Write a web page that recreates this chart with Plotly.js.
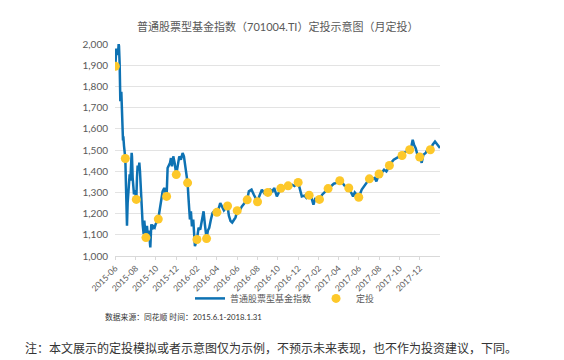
<!DOCTYPE html>
<html>
<head>
<meta charset="utf-8">
<script src="https://cdn.plot.ly/plotly-3.0.1.min.js"></script>
<style>
  html, body { margin: 0; padding: 0; background: #ffffff; }
  #chart { width: 564px; height: 360px; }
</style>
</head>
<body>
<div id="chart"></div>
<script>
// Index line (普通股票型基金指数)
const lineDates = [
  '2015-06-01','2015-06-02','2015-06-03','2015-06-04','2015-06-05','2015-06-08','2015-06-09','2015-06-10','2015-06-11','2015-06-12',
  '2015-06-14','2015-06-16','2015-06-17','2015-06-19','2015-06-20','2015-06-24','2015-06-25','2015-06-27','2015-06-29','2015-07-01',
  '2015-07-03','2015-07-04','2015-07-06','2015-07-08','2015-07-10','2015-07-11','2015-07-14','2015-07-16','2015-07-18','2015-07-20',
  '2015-07-21','2015-07-23','2015-07-25','2015-07-27','2015-07-30','2015-08-03','2015-08-05','2015-08-07','2015-08-10','2015-08-12',
  '2015-08-14','2015-08-17','2015-08-20','2015-08-22','2015-08-25','2015-08-27','2015-08-29','2015-09-01','2015-09-04','2015-09-06',
  '2015-09-10','2015-09-14','2015-09-17','2015-09-20','2015-09-23','2015-09-27','2015-09-30','2015-10-08','2015-10-11','2015-10-16',
  '2015-10-21','2015-10-26','2015-10-29','2015-11-02','2015-11-05','2015-11-09','2015-11-12','2015-11-15','2015-11-18','2015-11-22',
  '2015-11-26','2015-12-01','2015-12-05','2015-12-10','2015-12-15','2015-12-20','2015-12-24','2015-12-28','2016-01-04','2016-01-07',
  '2016-01-11','2016-01-14','2016-01-17','2016-01-21','2016-01-24','2016-01-26','2016-02-01','2016-02-06','2016-02-11','2016-02-17',
  '2016-02-21','2016-02-25','2016-03-01','2016-03-05','2016-03-09','2016-03-14','2016-03-19','2016-03-24','2016-03-28','2016-04-01',
  '2016-04-07','2016-04-11','2016-04-17','2016-04-22','2016-04-27','2016-05-03','2016-05-07','2016-05-12','2016-05-17','2016-05-22',
  '2016-05-27','2016-06-01','2016-06-07','2016-06-15','2016-06-22','2016-07-01','2016-07-06','2016-07-14','2016-07-21','2016-08-01',
  '2016-08-06','2016-08-14','2016-08-21','2016-09-01','2016-09-08','2016-09-15','2016-09-20','2016-09-23','2016-09-28','2016-10-10',
  '2016-10-17','2016-10-24','2016-11-01','2016-11-13','2016-11-20','2016-12-01','2016-12-08','2016-12-12','2016-12-20','2016-12-26',
  '2017-01-03','2017-01-10','2017-01-16','2017-01-21','2017-02-03','2017-02-11','2017-02-21','2017-03-01','2017-03-10','2017-03-18',
  '2017-03-26','2017-04-05','2017-04-12','2017-04-19','2017-05-02','2017-05-09','2017-05-15','2017-05-20','2017-05-25','2017-06-01',
  '2017-06-10','2017-06-20','2017-07-03','2017-07-08','2017-07-19','2017-07-24','2017-08-01','2017-08-08','2017-08-16','2017-08-23',
  '2017-09-01','2017-09-08','2017-09-14','2017-09-21','2017-10-01','2017-10-09','2017-10-14','2017-10-22','2017-11-01','2017-11-06',
  '2017-11-10','2017-11-14','2017-11-19','2017-11-24','2017-12-01','2017-12-07','2017-12-12','2017-12-19','2017-12-24','2018-01-02',
  '2018-01-09','2018-01-16','2018-01-23','2018-01-31'
];
const lineValues = [
  1895,1965,1940,1978,1948,1970,1955,1985,2000,1990,
  1905,1730,1740,1775,1720,1545,1565,1520,1490,1460,
  1330,1275,1143,1250,1300,1322,1385,1355,1432,1487,
  1470,1369,1340,1291,1310,1267,1369,1426,1405,1440,
  1401,1291,1200,1150,1103,1167,1130,1087,1142,1105,
  1119,1040,1150,1126,1140,1134,1150,1174,1205,1266,
  1305,1321,1300,1281,1415,1431,1438,1462,1423,1470,
  1440,1384,1431,1470,1454,1486,1470,1423,1345,1266,
  1172,1211,1140,1172,1093,1046,1078,1133,1125,1187,
  1211,1148,1082,1120,1133,1172,1203,1211,1195,1206,
  1227,1250,1234,1215,1225,1236,1190,1165,1158,1170,
  1182,1214,1211,1234,1250,1265,1305,1313,1289,1256,
  1281,1313,1297,1300,1313,1305,1321,1305,1281,1319,
  1328,1322,1331,1336,1330,1347,1305,1281,1285,1274,
  1287,1274,1242,1269,1267,1289,1305,1318,1332,1341,
  1345,1355,1348,1332,1321,1297,1281,1300,1290,1277,
  1313,1336,1364,1360,1368,1352,1387,1391,1407,1399,
  1427,1443,1454,1462,1470,1474,1486,1493,1501,1517,
  1548,1525,1509,1478,1467,1440,1478,1486,1501,1501,
  1525,1540,1525,1509
];

// Monthly investment points (定投)
const dotDates = [
  '2015-06-01','2015-07-01','2015-08-03','2015-09-01','2015-10-08','2015-11-02','2015-12-01','2016-01-04',
  '2016-02-01','2016-03-01','2016-04-01','2016-05-03','2016-06-01','2016-07-01','2016-08-01','2016-09-01',
  '2016-10-10','2016-11-01','2016-12-01','2017-01-03','2017-02-03','2017-03-01','2017-04-05','2017-05-02',
  '2017-06-01','2017-07-03','2017-08-01','2017-09-01','2017-10-09','2017-11-01','2017-12-01','2018-01-02'
];
const dotValues = [
  1895,1460,1267,1087,1174,1281,1384,1345,
  1078,1082,1206,1236,1214,1265,1256,1300,
  1319,1331,1347,1287,1267,1318,1355,1321,
  1277,1364,1387,1427,1474,1501,1467,1501
];

const seriesNames = ['普通股票型基金指数', '定投'];
const titleText = '普通股票型基金指数（701004.TI）定投示意图（月定投）';
const sourceText = '数据来源：同花顺 时间：2015.6.1-2018.1.31';
const noteText = '注：本文展示的定投模拟或者示意图仅为示例，不预示未来表现，也不作为投资建议，下同。';

const FONT = "Lato, 'Noto Sans CJK SC', sans-serif";
const GREY = '#595959';

const traces = [
  {
    x: lineDates, y: lineValues, type: 'scatter', mode: 'lines', name: seriesNames[0],
    line: { color: '#0e72b3', width: 2.5 }
  },
  {
    x: dotDates, y: dotValues, type: 'scatter', mode: 'markers', name: seriesNames[1],
    marker: { color: '#fdc82a', size: 9 }
  }
];

const PL = 115, PW = 325, PB = 256.5, PH = 212.5;
const px = v => (v - PL) / PW;
const py = v => (PB - v) / PH;

const layout = {
  width: 564, height: 360,
  margin: { l: PL, r: 564 - PL - PW, t: 44, b: 360 - PB },
  paper_bgcolor: '#ffffff', plot_bgcolor: '#ffffff',
  font: { family: FONT, color: GREY, size: 10 },
  showlegend: true,
  xaxis: {
    type: 'date',
    range: ['2015-05-31', '2018-01-31'],
    tick0: '2015-06-01', dtick: 'M2', tickformat: '%Y-%m',
    tickangle: -45,
    ticks: 'outside', ticklen: 3, tickcolor: '#d9d9d9',
    showgrid: false, zeroline: false,
    showline: true, linecolor: '#d9d9d9', linewidth: 1,
    tickfont: { family: FONT, size: 8.5, color: GREY }
  },
  yaxis: {
    range: [1000, 2000], dtick: 100, tickformat: ',d',
    showgrid: true, gridcolor: '#e3e3e3', gridwidth: 1,
    zeroline: false, showline: false, ticks: '',
    ticklabelstandoff: 6,
    tickfont: { family: FONT, size: 10, color: GREY }
  },
  legend: {
    orientation: 'h',
    x: px(190), xanchor: 'left',
    y: py(299), yanchor: 'middle',
    itemwidth: 30,
    font: { family: FONT, size: 9, color: GREY },
    bgcolor: 'rgba(0,0,0,0)'
  },
  annotations: [
    {
      text: titleText, xref: 'paper', yref: 'paper',
      x: px(135), xanchor: 'left',
      y: py(26), yanchor: 'middle',
      showarrow: false, font: { family: FONT, size: 11, color: GREY }
    },
    {
      text: sourceText, xref: 'paper', yref: 'paper',
      x: px(103), xanchor: 'left',
      y: py(318), yanchor: 'middle',
      showarrow: false, font: { family: FONT, size: 7.8, color: '#333333' }
    },
    {
      text: noteText, xref: 'paper', yref: 'paper',
      x: px(23), xanchor: 'left',
      y: py(348), yanchor: 'middle',
      showarrow: false, font: { family: "'Noto Sans CJK SC', sans-serif", size: 12, color: '#333333' }
    }
  ]
};

Plotly.newPlot('chart', traces, layout, { displayModeBar: false, staticPlot: true });
</script>
</body>
</html>
